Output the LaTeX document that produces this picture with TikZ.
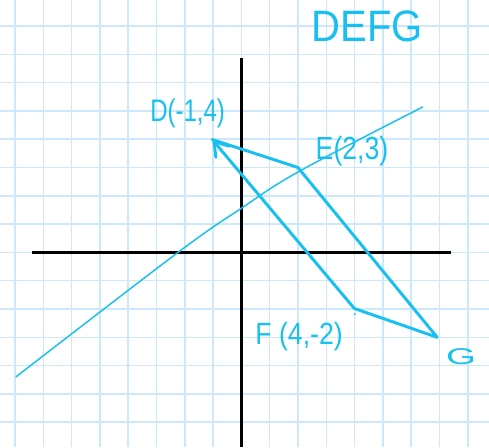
\documentclass[tikz,border=0pt]{standalone}
\usepackage{fontspec}
\setmainfont{Liberation Sans}
\usetikzlibrary{arrows.meta}
\definecolor{gridblue}{RGB}{205,232,250}
\definecolor{ink}{RGB}{24,192,240}
\begin{document}
\begin{tikzpicture}[x=21.225pt,y=21.225pt,
  gridline/.style={gridblue,line width=1.1pt},
  axis/.style={black,line width=2.2pt},
  side/.style={ink,line width=2.2pt,line join=round,line cap=round},
  thinink/.style={ink,line width=1.1pt},
  lbl/.style={ink,inner sep=0pt,font=\fontsize{18}{20}\selectfont}]
\useasboundingbox (-8.53,-6.876) rectangle (8.75,8.92);
\fill[white] (-8.53,-6.876) rectangle (8.75,8.92);
\foreach \i in {-8,...,8} \draw[gridline] (\i,-6.876) -- (\i,8.92);
\foreach \j in {-6,...,8} \draw[gridline] (-8.53,\j) -- (8.75,\j);
% axes
\coordinate (xl) at (-7.40,0);
\coordinate (xr) at (7.41,0);
\coordinate (yt) at (0,6.87);
\coordinate (yb) at (0,-6.876);
\draw[axis] (xl) -- (xr);
\draw[axis] (yt) -- (yb);
% long line
\coordinate (L1) at (-7.97,-4.40);
\coordinate (L2) at (-2.24,0);
\coordinate (L3) at (0,1.56);
\coordinate (L4) at (2.07,2.88);
\coordinate (L5) at (6.41,5.14);
\draw[thinink] plot[smooth,tension=0.6] coordinates {(L1) (L2) (L3) (L4) (L5)};
% quadrilateral
\coordinate (D) at (-1.03,3.99);
\coordinate (E) at (2.0,3.0);
\coordinate (F) at (3.99,-1.98);
\coordinate (G) at (6.92,-3.0);
\draw[side] (D) -- (E) -- (G) -- (F);
\draw[side,-{Straight Barb[length=10pt,width=13pt,line cap=round]}] (F) -- (D);
\fill[ink] (4.01,-2.18) circle (0.9pt);
% labels
\node[lbl,yscale=1.3] (Dl) at (-1.90,4.90) {D(-1,4)};
\node[lbl,font=\fontsize{20}{22}\selectfont,yscale=1.2] (El) at (3.91,3.58) {E(2,3)};
\node[lbl,font=\fontsize{20}{22}\selectfont,yscale=1.15] (Fl) at (2.04,-2.99) {F (4,-2)};
\node[lbl,xscale=1.6,yscale=0.95] (Gl) at (7.76,-3.69) {G};
\node[lbl,font=\fontsize{30}{32}\selectfont,yscale=1.1] (title) at (4.45,8.0) {DEFG};
\end{tikzpicture}
\end{document}
